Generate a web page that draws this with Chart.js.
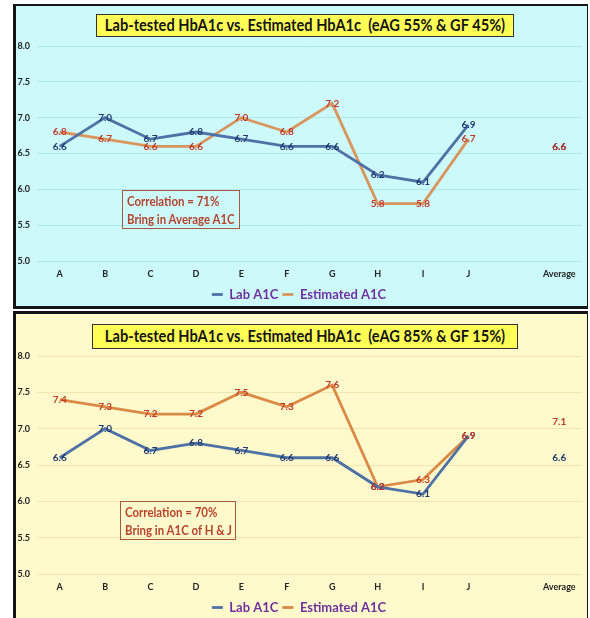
<!DOCTYPE html>
<html>
<head>
<meta charset="utf-8">
<script src="https://cdn.jsdelivr.net/npm/chart.js@4.4.1/dist/chart.umd.min.js"></script>
<style>
  body { margin:0; width:590px; height:618px; background:#fff; position:relative; overflow:hidden;
         font-family: Lato, "Open Sans", sans-serif; }
  .panel { position:absolute; left:13px; width:575px; box-sizing:border-box; border:0 solid #151515; overflow:hidden; }
  #p1 { top:4px; height:305px; border-left-width:3px; border-top-width:2px; border-bottom-width:3px; border-right-width:1px; background:#CCF9FA; }
  #p2 { top:311px; height:307px; border-left-width:3px; border-top-width:3px; border-right-width:1px; background:#FFF9CC; }
  .title { position:absolute; box-sizing:border-box; background:#FFFF55; border:1.5px solid #333; font-weight:700;
           font-size:17px; color:#151515; white-space:pre; z-index:2; }
  .title span { position:absolute; left:50%; top:0; transform:translateX(-50%) scaleX(0.86); transform-origin:center; }
  .note { position:absolute; box-sizing:border-box; border:1.5px solid #A65840; color:#B5432E; font-weight:700;
          font-size:13px; line-height:18px; padding:1px 4px; white-space:nowrap; z-index:2; }
  .note span { display:block; transform:scaleX(0.88); transform-origin:left; }
  canvas { position:absolute; left:0; top:0; }
</style>
</head>
<body>
<div class="panel" id="p1">
  <canvas id="c1" width="571" height="305"></canvas>
  <div class="title" style="left:80px;top:8px;width:418px;height:23px;line-height:20px;"><span>Lab-tested HbA1c vs. Estimated HbA1c  (eAG 55% &amp; GF 45%)</span></div>
  <div class="note" style="left:106px;top:184px;width:118px;height:39px;"><span>Correlation = 71%</span><span>Bring in Average A1C</span></div>
</div>
<div class="panel" id="p2">
  <canvas id="c2" width="571" height="310"></canvas>
  <div class="title" style="left:76px;top:10px;width:426px;height:25px;line-height:22px;"><span>Lab-tested HbA1c vs. Estimated HbA1c  (eAG 85% &amp; GF 15%)</span></div>
  <div class="note" style="left:104px;top:187px;width:116px;height:39px;"><span>Correlation = 70%</span><span>Bring in A1C of H &amp; J</span></div>
</div>
<script>
// Categories (blank slot separates the patients from the average)
const categories = ['A', 'B', 'C', 'D', 'E', 'F', 'G', 'H', 'I', 'J', '', 'Average'];
const yTickValues = [5.0, 5.5, 6.0, 6.5, 7.0, 7.5, 8.0];

// Lab-tested HbA1c (same in both panels)
const labA1c = [6.6, 7.0, 6.7, 6.8, 6.7, 6.6, 6.6, 6.2, 6.1, 6.9, null, 6.6];
// Estimated HbA1c, eAG 55% & GF 45%
const estA1c55 = [6.8, 6.7, 6.6, 6.6, 7.0, 6.8, 7.2, 5.8, 5.8, 6.7, null, 6.6];
// Estimated HbA1c, eAG 85% & GF 15%
const estA1c85 = [7.4, 7.3, 7.2, 7.2, 7.5, 7.3, 7.6, 6.2, 6.3, 6.9, null, 7.1];

const FONT = 'Lato, "Open Sans", sans-serif';
const labelColors = ['#1F3A70', '#C0392B'];

// Writes each point's value centred on the point
const valueLabels = {
  id: 'valueLabels',
  afterDatasetsDraw(chart) {
    const ctx = chart.ctx;
    chart.data.datasets.forEach((ds, i) => {
      const meta = chart.getDatasetMeta(i);
      ctx.save();
      ctx.font = 'bold 10px ' + FONT;
      ctx.fillStyle = labelColors[i];
      ctx.textAlign = 'center';
      ctx.textBaseline = 'middle';
      meta.data.forEach((pt, j) => {
        const v = ds.data[j];
        if (v === null || v === undefined) return;
        ctx.fillText(v.toFixed(1), pt.x, pt.y);
      });
      ctx.restore();
    });
  }
};

function makeChart(id, estData, estColor, gridColor, padTop) {
  return new Chart(document.getElementById(id), {
    type: 'line',
    data: {
      labels: categories,
      datasets: [
        { label: 'Lab A1C', data: labA1c, borderColor: '#4E72A6', backgroundColor: '#4E72A6',
          borderWidth: 2.8, pointRadius: 0, tension: 0, spanGaps: false },
        { label: 'Estimated A1C', data: estData, borderColor: estColor, backgroundColor: estColor,
          borderWidth: 2.8, pointRadius: 0, tension: 0, spanGaps: false }
      ]
    },
    options: {
      responsive: false,
      animation: false,
      devicePixelRatio: 1,
      layout: { padding: { top: padTop, right: 5, left: 0, bottom: 0 } },
      plugins: {
        tooltip: { enabled: false },
        title: { display: false },
        legend: {
          position: 'bottom',
          labels: {
            usePointStyle: true, pointStyle: 'line', pointStyleWidth: 11,
            color: '#7030A0', padding: 4,
            font: { family: FONT, size: 13, weight: 'bold' }
          }
        }
      },
      scales: {
        x: {
          type: 'category',
          offset: true,
          grid: { display: false, drawTicks: false },
          border: { display: false },
          ticks: { color: '#222', padding: 8, maxRotation: 0, autoSkip: false,
                   font: { family: FONT, size: 9, weight: 'bold' } },
          afterFit(scale) { scale.height = 23; }
        },
        y: {
          min: yTickValues[0],
          max: yTickValues[yTickValues.length - 1],
          afterBuildTicks(scale) { scale.ticks = yTickValues.map(v => ({ value: v })); },
          grid: { color: gridColor, lineWidth: 1, drawTicks: false },
          border: { display: false },
          ticks: { color: '#222', padding: 7,
                   font: { family: FONT, size: 9, weight: 'bold' },
                   callback: v => Number(v).toFixed(1) },
          afterFit(scale) { scale.width = 21; }
        }
      }
    },
    plugins: [valueLabels]
  });
}

makeChart('c1', estA1c55, '#D8955E', 'rgba(120,200,205,0.35)', 40);
makeChart('c2', estA1c85, '#DA8A45', 'rgba(200,190,120,0.3)', 42);
</script>
</body>
</html>
